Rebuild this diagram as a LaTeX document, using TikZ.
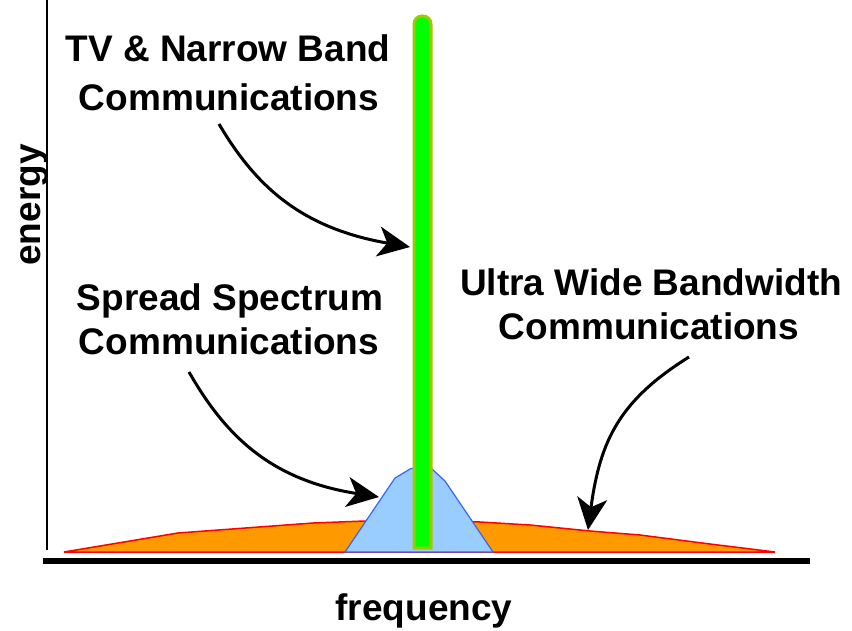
\documentclass[tikz,border=0pt]{standalone}
\usepackage{fontspec}
\setmainfont{Liberation Sans}
\usetikzlibrary{arrows.meta}
\definecolor{bandorange}{HTML}{FF9900}
\definecolor{bandred}{HTML}{FF0000}
\definecolor{ssfill}{HTML}{99CCFF}
\definecolor{ssline}{HTML}{3366FF}
\definecolor{nbfill}{HTML}{00FF00}
\definecolor{nbline}{HTML}{99CC00}
\begin{document}
\begin{tikzpicture}[x=1pt,y=-1pt,
  lbl/.style={font=\fontsize{37}{40}\selectfont\bfseries, inner sep=0pt, anchor=base},
  pointer/.style={line width=3pt, -{Stealth[length=32pt,width=30pt,inset=9pt]}}]
\useasboundingbox (0,0) rectangle (852,631);

% axes
\draw[line width=2pt] (47,0) -- (47,550);
\draw[line width=6pt] (43,561) -- (810,561);

% ultra wide band spectrum
\fill[bandorange] (64,552) -- (178,533) -- (313,523) -- (365,521) -- (480,522)
  -- (530,525) -- (590,531) -- (640,535) -- (710,544) -- (775,552) -- cycle;
\draw[bandred, line width=1.5pt] (64,552) -- (178,533) -- (313,523) -- (365,521) -- (480,522)
  -- (530,525) -- (590,531) -- (640,535) -- (710,544) -- (775,552) -- cycle;

% spread spectrum hump
\draw[ssline, fill=ssfill, line width=1.2pt] (345,552) -- (395,478) -- (410,469)
  -- (420,466) -- (432,469) -- (445,481) -- (493,552) -- cycle;

% narrow band spike
\draw[nbline, fill=nbfill, line width=3pt] (414,548) [rounded corners=8pt] -- (414,16)
  -- (431,16) [sharp corners] -- (431,548) -- cycle;

% labels
\node[lbl] (tvA) at (228,62) {TV \& Narrow Band};
\node[lbl] (tvB) at (229,111) {Communications};
\node[lbl] (ssA) at (230,310) {Spread Spectrum};
\node[lbl] (ssB) at (229,354) {Communications};
\node[lbl] (uwA) at (651,295) {Ultra Wide Bandwidth};
\node[lbl] (uwB) at (649,339) {Communications};
\node[lbl] (freq) at (424,620) {frequency};
\node[lbl, rotate=90] (energy) at (40,205) {energy};

% pointers
\coordinate (tvTail) at (219,124);
\coordinate (ssTail) at (189,372);
\coordinate (uwTail) at (689,357);
\coordinate (tvTip) at (410,247);
\coordinate (ssTip) at (379,497);
\coordinate (uwTip) at (588,530);
\draw[pointer] (tvTail) .. controls (255,185) and (300,228) .. (tvTip);
\draw[pointer] (ssTail) .. controls (225,435) and (270,480) .. (ssTip);
\draw[pointer] (uwTail) .. controls (620,400) and (600,440) .. (uwTip);
\end{tikzpicture}
\end{document}
